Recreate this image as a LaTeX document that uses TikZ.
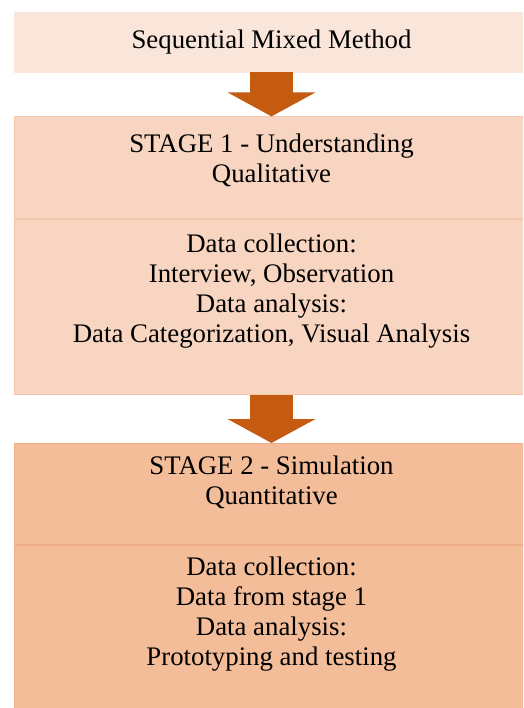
\documentclass[tikz,border=0pt]{standalone}
\usepackage{fontspec}
\setmainfont{Liberation Serif}
\usetikzlibrary{positioning,arrows.meta}

\definecolor{topfill}{HTML}{F9E5DA}
\definecolor{onefill}{HTML}{F8D5C0}
\definecolor{onedraw}{HTML}{F3C7AB}
\definecolor{twofill}{HTML}{F3BD99}
\definecolor{twodraw}{HTML}{EEAF88}
\definecolor{arrowc}{HTML}{C55A11}

\tikzset{
  panel/.style={rectangle, minimum width=515pt, inner sep=0pt, line width=0.8pt},
  txt/.style={inner sep=0pt, align=center, font=\fontsize{26.8}{30}\selectfont},
  flow/.style={color=arrowc, line width=43pt, -{Triangle[width=87pt,length=24pt]}}
}

\begin{document}
\begin{tikzpicture}[x=1pt,y=-1pt]
    \clip (0,0) rectangle (523,708);
    % boxes
    \node[panel, fill=topfill, draw=topfill!90!white, minimum height=60pt] (top) at (271.5,42)
      {\fontsize{26.8}{30}\selectfont Sequential Mixed Method};
    \node[panel, fill=onefill, draw=onedraw, minimum height=102pt, below=44pt of top] (s1head) {};
    \node[panel, fill=onefill, draw=onedraw, minimum height=175pt, below=0pt of s1head] (s1body) {};
    \node[panel, fill=twofill, draw=twodraw, minimum height=101pt, below=48pt of s1body] (s2head) {};
    \node[panel, fill=twofill, draw=twodraw, minimum height=190pt, below=0pt of s2head] (s2body) {};
    % texts
    \node[txt, below=17pt of s1head.north] (t1head) {STAGE 1 - Understanding\\Qualitative};
    \node[txt, below=15pt of s1body.north] (t1body)
      {Data collection:\\Interview, Observation\\Data analysis:\\Data Categorization, Visual Analysis};
    \node[txt, below=13pt of s2head.north] (t2head) {STAGE 2 - Simulation\\Quantitative};
    \node[txt, below=12pt of s2body.north] (t2body)
      {Data collection:\\Data from stage 1\\Data analysis:\\Prototyping and testing};
    % arrows
    \draw[flow] (top) -- (s1head);
    \draw[flow] (s1body) -- (s2head);
\end{tikzpicture}
\end{document}
